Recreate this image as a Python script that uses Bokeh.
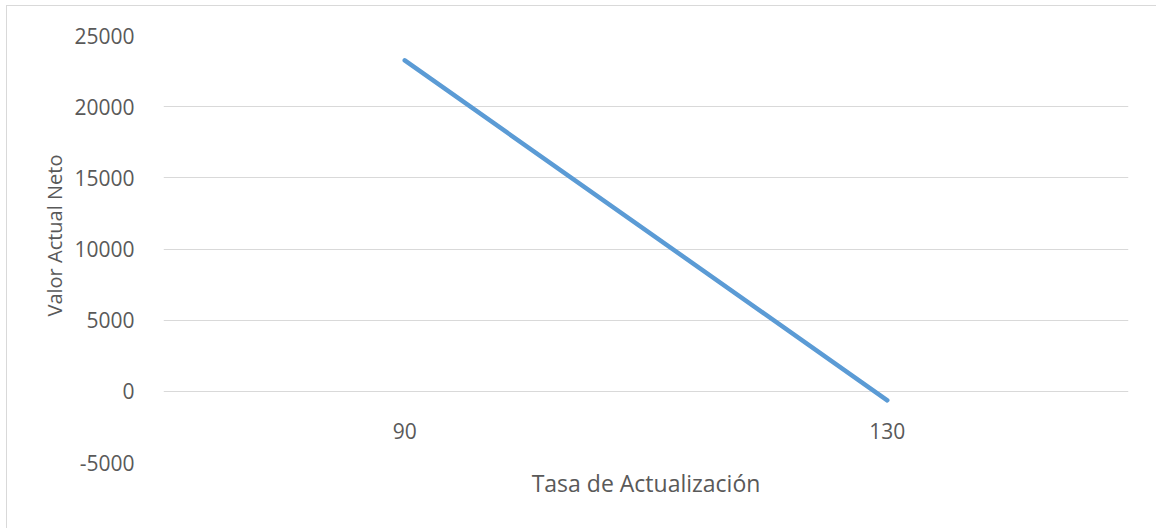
from bokeh.plotting import figure
from bokeh.models import Range1d, FixedTicker, ColumnDataSource, CustomJSTickFormatter, Title
from bokeh.core.properties import value
from bokeh.embed import file_html
from bokeh.resources import INLINE

categories = ["90", "130"]
van_values = [23250, -630]
y_ticks = [-5000, 0, 5000, 10000, 15000, 20000, 25000]
x_title = "Tasa de Actualización"
y_title = "Valor Actual Neto"

FONT = "Open Sans"
FS = "21px"
TXT = "#595959"
GRID = "#d9d9d9"

# category slots: one unit per category, marks at slot centres
xpos = [i + 0.5 for i in range(len(categories))]

p = figure(width=1150, height=523, output_backend="svg", toolbar_location=None,
           x_range=Range1d(0, len(categories)),
           y_range=Range1d(-5000, 25000),
           min_border_left=156, min_border_right=29, min_border_top=29, min_border_bottom=67)
p.outline_line_color = None
p.styles = {"margin-left": "6px", "margin-top": "5px",
            "border-top": "1px solid #d9d9d9", "border-left": "1px solid #d9d9d9"}

p.xgrid.grid_line_color = None
p.ygrid.grid_line_color = GRID
p.ygrid.grid_line_width = 1
p.yaxis.ticker = FixedTicker(ticks=y_ticks)
p.yaxis.formatter = CustomJSTickFormatter(code="return tick.toFixed(0);")
p.yaxis.axis_line_color = None
p.yaxis.major_tick_line_color = None
p.yaxis.minor_tick_line_color = None
p.yaxis.major_label_standoff = 23
p.yaxis.major_label_text_font = FONT
p.yaxis.major_label_text_font_size = FS
p.yaxis.major_label_text_color = TXT

ytitle = Title(text=y_title, align="left", offset=146, standoff=8,
               text_font=FONT, text_font_size="20px", text_font_style="normal", text_color=TXT)
p.add_layout(ytitle, "left")

p.xaxis.ticker = FixedTicker(ticks=[])
p.xaxis.axis_line_color = None
p.xaxis.major_tick_line_color = None
p.xaxis.minor_tick_line_color = None
p.xaxis.axis_label = x_title
p.xaxis.axis_label_text_font = FONT
p.xaxis.axis_label_text_font_size = "23px"
p.xaxis.axis_label_text_font_style = "normal"
p.xaxis.axis_label_text_color = TXT
p.xaxis.axis_label_standoff = 4

src = ColumnDataSource(dict(x=xpos, y=van_values))
p.line("x", "y", source=src, line_color="#5b9bd5", line_width=4.5, line_cap="round", line_join="round")

lab = ColumnDataSource(dict(x=xpos, y=[0] * len(categories), t=categories))
p.text("x", "y", text="t", source=lab, text_font=value(FONT), text_font_size=FS,
       text_color=TXT, text_align="center", text_baseline="alphabetic", y_offset=40)

open("out.html", "w").write(file_html(p, INLINE))
